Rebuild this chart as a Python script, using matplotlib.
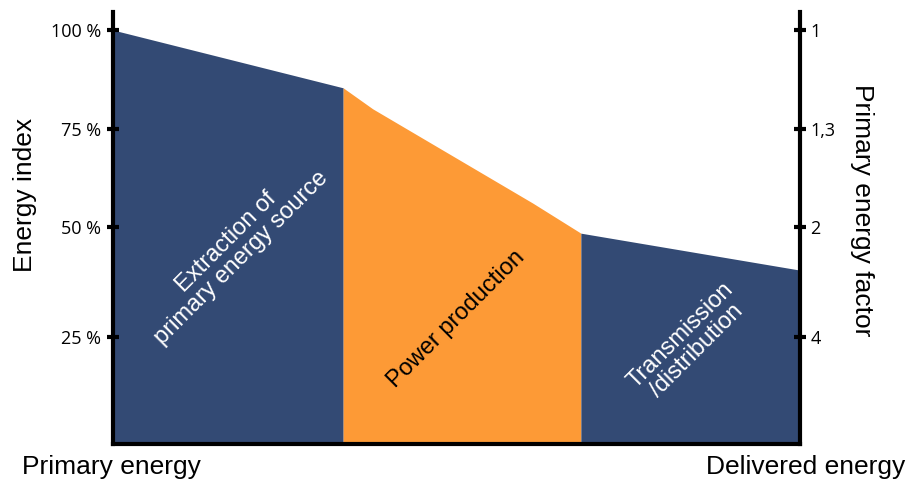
import numpy as np
import matplotlib
matplotlib.use("Agg")
import matplotlib.pyplot as plt

# ---- data ----
stage_x = [0.0, 0.335, 0.378, 0.611, 0.681, 1.0]        # position along the chain (fraction)
energy_index = [100.0, 85.4, 80.1, 56.1, 48.6, 40.2]      # energy index in %
boundaries = [0.0, 0.335, 0.681, 1.0]
stage_labels = ["Extraction of\nprimary energy source", "Power production", "Transmission\n/distribution"]
stage_colors = ["#334A74", "#FD9A36", "#334A74"]
stage_text_colors = ["white", "black", "white"]
stage_text_pos = [(0.176, 44.8), (0.50, 29.1), (0.838, 23.5)]
left_ticks = [100, 75, 50, 25]
left_ticklabels = ["100 %", "75 %", "50 %", "25 %"]
right_ticklabels = ["1", "1,3", "2", "4"]

# axis scale as drawn in the reference (non-uniform tick spacing)
scale_vals = [0, 25, 50, 75, 100, 104.5]
scale_pos = [0, 107, 217, 315, 414, 432]


def forward(v):
    v = np.asarray(v, dtype=float)
    return np.interp(v, scale_vals, scale_pos)


def inverse(p):
    p = np.asarray(p, dtype=float)
    return np.interp(p, scale_pos, scale_vals)


W, H = 909, 482
fig = plt.figure(figsize=(W / 100, H / 100), dpi=100)
ax = fig.add_axes([113 / W, (H - 444) / H, (800 - 113) / W, (444 - 12) / H])
ax.set_yscale("function", functions=(forward, inverse))
ax.set_xlim(0, 1)
ax.set_ylim(0, 104.5)

xs = np.array(stage_x)
ys = np.array(energy_index)
for i in range(3):
    x0, x1 = boundaries[i], boundaries[i + 1]
    m = (xs >= x0 - 1e-9) & (xs <= x1 + 1e-9)
    ax.fill_between(xs[m], 0, ys[m], color=stage_colors[i], linewidth=0)

for lab, col, (tx, ty) in zip(stage_labels, stage_text_colors, stage_text_pos):
    ax.text(tx, ty, lab, color=col, rotation=45, ha="center", va="center",
            rotation_mode="anchor", fontsize=17, family="Liberation Sans",
            linespacing=1.0, multialignment="center")

for s in ["left", "right", "bottom"]:
    ax.spines[s].set_linewidth(3)
    ax.spines[s].set_color("black")
ax.spines["top"].set_visible(False)

ax.set_xticks([])
ax.set_yticks(left_ticks)
ax.set_yticklabels(left_ticklabels, family="Open Sans", fontsize=13)
ax.tick_params(axis="y", direction="inout", length=9, width=3, pad=4)

ax2 = ax.twinx()
ax2.set_yscale("function", functions=(forward, inverse))
ax2.set_ylim(ax.get_ylim())
ax2.set_yticks(left_ticks)
ax2.set_yticklabels(right_ticklabels, family="Open Sans", fontsize=13)
ax2.tick_params(axis="y", direction="inout", length=9, width=3, pad=3)
for s in ["left", "right", "bottom", "top"]:
    ax2.spines[s].set_visible(False)

fig.text(25 / W, 1 - 195 / H, "Energy index", rotation=90, ha="center", va="center",
         fontsize=19, family="Liberation Sans")
fig.text(862 / W, 1 - 210 / H, "Primary energy factor", rotation=270, ha="center", va="center",
         fontsize=19, family="Liberation Sans")
fig.text(22 / W, 1 - 467 / H, "Primary energy", ha="left", va="center",
         fontsize=19, family="Liberation Sans")
fig.text(905 / W, 1 - 467 / H, "Delivered energy", ha="right", va="center",
         fontsize=19, family="Liberation Sans")

fig.savefig("out.png", dpi=100)
